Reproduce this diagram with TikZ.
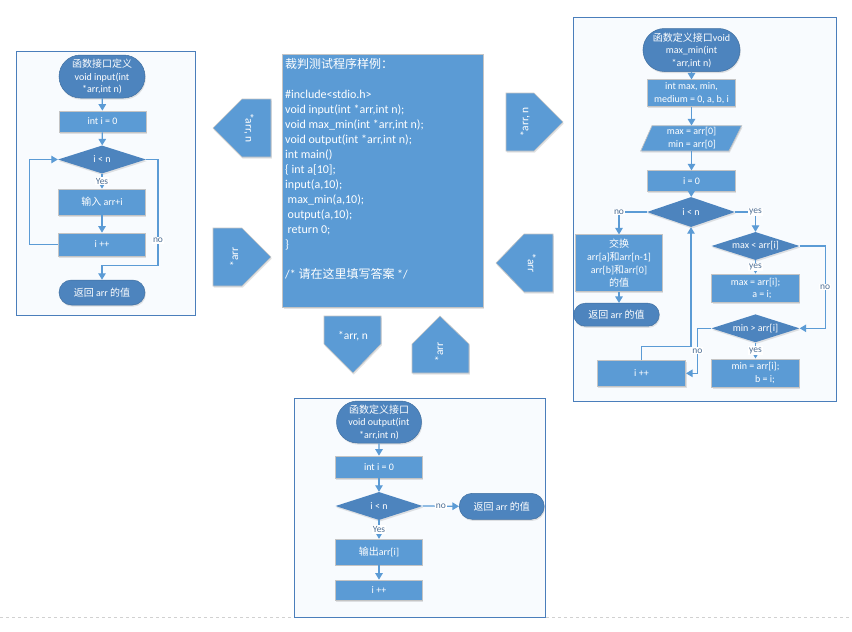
\documentclass[tikz,border=0pt]{standalone}
\usepackage{fontspec}
\setmainfont{Carlito}
\newfontfamily\zh{Noto Sans CJK SC}
\usetikzlibrary{shapes.geometric,shapes.misc,arrows.meta,shadows,calc}

\definecolor{cfill}{HTML}{5B9BD5}
\definecolor{cdark}{HTML}{4D84BE}
\definecolor{cline}{HTML}{5B9BD5}
\definecolor{cpanel}{HTML}{4A7EBB}
\definecolor{clabel}{HTML}{4F6F94}
\definecolor{cedge}{HTML}{C4C4C4}
\definecolor{cbg}{HTML}{F8FBFE}

\tikzset{
 panel/.style={draw=cpanel, line width=0.9pt, fill=cbg},
 shad/.style={drop shadow={shadow xshift=0.8pt, shadow yshift=-1.6pt, opacity=0.22, fill=black!50}},
 nodefont/.style={font=\fontsize{10}{12.5}\selectfont},
 procbox/.style={rectangle, fill=cfill, draw=cedge, line width=0.7pt, text=white, nodefont, align=center, minimum width=87pt, inner sep=1pt, shad},
 termbox/.style={rounded rectangle, fill=cdark, draw=cdark!85!black, line width=0.5pt, text=white, nodefont, align=center, minimum width=88pt, minimum height=43pt, inner sep=1pt, shad},
 decbox/.style={diamond, aspect=3.2, fill=cdark, text=white, nodefont, minimum width=88pt, minimum height=28pt, inner sep=0pt, shad},
 conn/.style={draw=cline, line width=1.2pt, -{Triangle[width=7.5pt,length=6.5pt]}},
 lab/.style={fill=white, text=clabel, font=\fontsize{9.5}{10}\selectfont, inner sep=1pt},
 arrowshape/.style={fill=cfill, draw=cedge, line width=0.6pt, shad},
 arrowtext/.style={text=white, font=\fontsize{11.5}{12}\selectfont, inner sep=0pt},
}

\begin{document}
\begin{tikzpicture}[x=1pt,y=-1pt]
\useasboundingbox (0,0) rectangle (852,632);
\fill[white] (0,0) rectangle (852,632);

% dashed page line
\draw[dashed, draw=black!18, line width=0.6pt] (0,617) -- (852,617);

% ---------------- left panel ----------------
\draw[panel] (16,51) rectangle (195,315);
\node[termbox] (L1) at (102,76.5) {{\zh 函数接口定义}\\void input(int\\*arr,int n)};
\node[procbox, minimum height=21pt] (L2) at (102.5,121.5) {int i = 0};
\node[decbox] (L3) at (102,159.5) {i < n};
\node[procbox, minimum height=26pt] (L4) at (102,202) {{\zh 输入} arr+i};
\node[procbox, minimum height=23pt] (L5) at (102,244.5) {i ++};
\node[termbox, minimum height=25pt] (L6) at (102,292.5) {{\zh 返回} arr {\zh 的值}};

\draw[conn] (L1) -- (L2);
\draw[conn] (L2) -- (L3);
\draw[conn] (L3.south) -- node[lab]{Yes} (L4.north);
\draw[conn] (L4) -- (L5);
\draw[conn] (L5.west) -- ++(-28.3,0) |- (L3.west);
\draw[conn] (L3.east) -| node[lab, pos=0.88]{no} (158,265.7) -| (L6.north);

% ---------------- central code box ----------------
\node[rectangle, fill=cfill, draw=cedge, line width=0.7pt, minimum width=200.6pt, minimum height=252.6pt, inner sep=0pt, shad] (code) at (383,181) {};
\node[anchor=north west, text=white, align=left, inner sep=0pt, font=\fontsize{12}{15}\selectfont] (codetxt) at (285,58) {{\zh 裁判测试程序样例：}\\
\mbox{}\\
\#include<stdio.h>\\
void input(int *arr,int n);\\
void max\_min(int *arr,int n);\\
void output(int *arr,int n);\\
int main()\\
\{ int a[10];\\
input(a,10);\\
\hspace*{2.5pt}max\_min(a,10);\\
\hspace*{2.5pt}output(a,10);\\
\hspace*{2.5pt}return 0;\\
\}\\
\mbox{}\\
/* {\zh 请在这里填写答案} */};

% ---------------- pentagon arrows ----------------
\path[arrowshape] (213,128) -- (242,99) -- (271,99) -- (271,157) -- (242,157) -- cycle;
\node[arrowtext, rotate=-90] (a1) at (249,128) {*arr, n};
\path[arrowshape] (213,228) -- (242,228) -- (271,257) -- (242,286) -- (213,286) -- cycle;
\node[arrowtext, rotate=90] (a2) at (234,257) {*arr};
\path[arrowshape] (506,93) -- (534,93) -- (563,122) -- (534,151) -- (506,151) -- cycle;
\node[arrowtext, rotate=90] (a3) at (525,122) {*arr, n};
\path[arrowshape] (496,263) -- (524,234) -- (553,234) -- (553,292) -- (524,292) -- cycle;
\node[arrowtext, rotate=-90] (a4) at (532,263) {*arr};
\path[arrowshape] (324,316) -- (381,316) -- (381,344) -- (353,373) -- (324,344) -- cycle;
\node[arrowtext] (a5) at (353,336) {*arr, n};
\path[arrowshape] (440,316) -- (469,344) -- (469,373) -- (412,373) -- (412,344) -- cycle;
\node[arrowtext, rotate=90] (a6) at (439,352) {*arr};

% ---------------- right panel ----------------
\draw[panel] (573,17) rectangle (836,401);
\node[termbox] (R1) at (691.5,50) {{\zh 函数定义接口}void\\max\_min(int\\*arr,int n)};
\node[procbox, minimum width=88pt, minimum height=27pt] (R2) at (691.5,93.3) {int max, min,\\medium = 0, a, b, i};
\path[fill=cfill, draw=cedge, line width=0.7pt, shad] (652,125.7) -- (741.7,125.7) -- (729,151) -- (640.7,151) -- cycle;
\node[rectangle, minimum width=89pt, minimum height=25.3pt, inner sep=0pt, text=white, nodefont, align=center] (R3) at (691.5,138.3) {max = arr[0]\\\hspace*{1pt}min = arr[0]};
\node[procbox, minimum width=88pt, minimum height=20.5pt] (R4) at (691.5,181) {i = 0};
\node[decbox, minimum height=30pt] (R5) at (691,212) {i < n};
\node[procbox, minimum height=57pt, font=\fontsize{10}{13}\selectfont] (R6) at (619,263.3) {{\zh 交换}\\arr[a]{\zh 和}arr[n-1]\\arr[b]{\zh 和}arr[0]\\{\zh 的值}};
\node[termbox, minimum width=87.5pt, minimum height=23pt] (R6T) at (616.5,314.7) {{\zh 返回} arr {\zh 的值}};
\node[decbox] (R7) at (755.5,246) {max < arr[i]};
\node[procbox, minimum width=87.5pt, minimum height=28.7pt] (R8) at (755.5,288.3) {max = arr[i];\\\hspace*{13pt}a = i;};
\node[decbox] (R9) at (755.5,328.3) {min > arr[i]};
\node[procbox, minimum width=87.5pt, minimum height=28.3pt] (R10) at (755.5,373) {min = arr[i];\\\hspace*{19pt}b = i;};
\node[procbox, minimum width=88.4pt, minimum height=25.3pt] (R11) at (641.5,373.3) {i ++};

\draw[conn] (R1) -- (R2);
\draw[conn] (R2) -- (R3);
\draw[conn] (R3) -- (R4);
\draw[conn] (R4) -- (R5);
\draw[conn] (R5.west) -| node[lab, pos=0.5]{no} (R6.north);
\draw[conn] (R5.east) -| node[lab, pos=0.5]{yes} (R7.north);
\draw[conn] (R6.south) -- (R6.south |- R6T.north);
\draw[conn] (R7.south) -- node[lab]{yes} (R8.north);
\draw[conn] (R7.east) -- ++(25.5,0) |- node[lab, pos=0.25]{no} (R9.east);
\draw[conn] (R9.south) -- node[lab]{yes} (R10.north);
\draw[conn] (R9.west) -- ++(-14,0) |- node[lab, pos=0.25]{no} (R11.east);
\draw[conn] (R11.north) -- ++(0,-14) -| (R5.south);

% ---------------- bottom panel ----------------
\draw[panel] (294,398) rectangle (545,617);
\node[termbox, minimum width=87pt, minimum height=42pt] (B1) at (379,422) {{\zh 函数定义接口}\\void output(int\\*arr,int n)};
\node[procbox, minimum height=22pt] (B2) at (379,467) {int i = 0};
\node[decbox, minimum width=87pt] (B3) at (379,506) {i < n};
\node[procbox, minimum height=25.7pt] (B4) at (379,552) {{\zh 输出}arr[i]};
\node[procbox, minimum height=20pt] (B5) at (379,590) {i ++};
\node[termbox, minimum width=87pt, minimum height=26pt] (B6) at (501.7,506.3) {{\zh 返回} arr {\zh 的值}};

\draw[conn] (B1) -- (B2);
\draw[conn] (B2) -- (B3);
\draw[conn] (B3.south) -- node[lab]{Yes} (B4.north);
\draw[conn] (B4) -- (B5);
\draw[conn] (B3.east) -- node[lab]{no} (B6.west);
\end{tikzpicture}
\end{document}
